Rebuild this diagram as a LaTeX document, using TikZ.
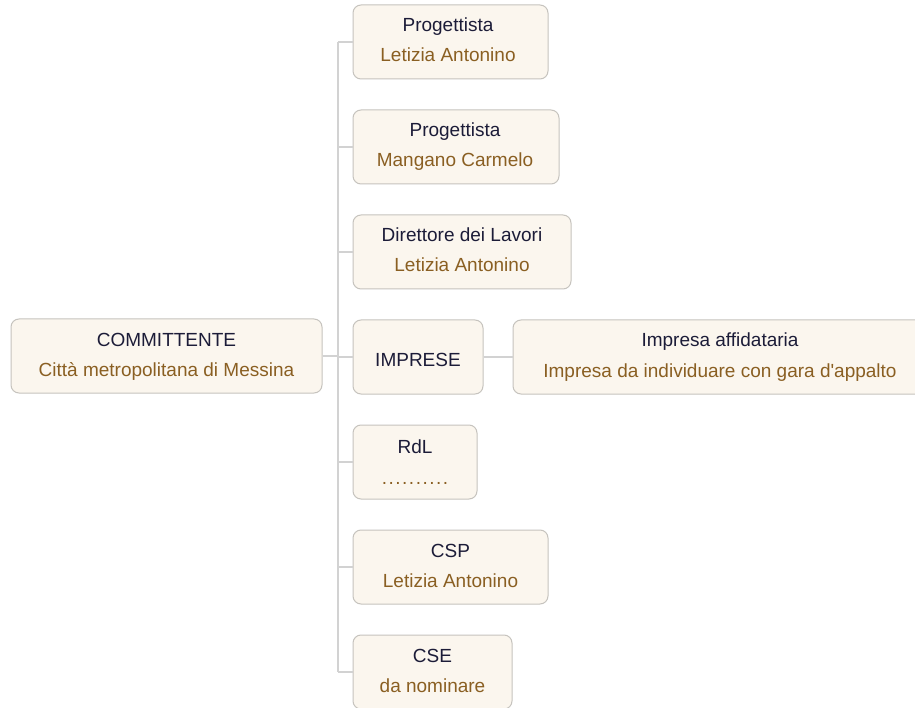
\documentclass[tikz,border=0pt]{standalone}
\usepackage{fontspec}
\setmainfont{Liberation Sans}
\definecolor{boxfill}{HTML}{FBF6EE}
\definecolor{boxline}{HTML}{C6C3BE}
\definecolor{wire}{HTML}{D2D2D2}
\definecolor{titlec}{HTML}{1C1C38}
\definecolor{subc}{HTML}{8A5F22}
\newcommand\dd{\makebox[6.8pt]{.}}
\tikzset{
  orgbox/.style={draw=boxline, fill=boxfill, line width=1pt, rounded corners=8pt,
    minimum height=74pt, inner sep=0pt},
  ttl/.style={anchor=base, inner sep=0pt, text=titlec, font=\fontsize{19}{22}\selectfont},
  sub/.style={anchor=base, inner sep=0pt, text=subc, font=\fontsize{19}{22}\selectfont},
  wireline/.style={draw=wire, line width=1.3pt}
}
\begin{document}
\begin{tikzpicture}[x=1pt, y=-1pt]
\clip (0,0) rectangle (915,708);
\fill[white] (0,0) rectangle (915,708);
% boxes
\node[orgbox, minimum width=311pt] (com) at (166.5,356) {};
\node[orgbox, minimum width=195pt] (p1) at (450.5,42) {};
\node[orgbox, minimum width=206pt] (p2) at (456,147) {};
\node[orgbox, minimum width=218pt] (dl) at (462,252) {};
\node[orgbox, minimum width=130pt] (imp) at (418,357) {};
\node[orgbox, minimum width=420pt] (aff) at (723,357) {};
\node[orgbox, minimum width=124pt] (rdl) at (415,462) {};
\node[orgbox, minimum width=195pt] (csp) at (450.5,567) {};
\node[orgbox, minimum width=159pt] (cse) at (432.5,672) {};
% texts
\node[ttl] (comt) at (166.5,346) {COMMITTENTE};
\node[sub] (coms) at (166.5,376) {Città metropolitana di Messina};
\node[ttl] (p1t) at (448,32) {Progettista};
\node[sub] (p1s) at (448,62) {Letizia Antonino};
\node[ttl] (p2t) at (455,137) {Progettista};
\node[sub] (p2s) at (455,167) {Mangano Carmelo};
\node[ttl] (dlt) at (462,242) {Direttore dei Lavori};
\node[sub] (dls) at (462,272) {Letizia Antonino};
\node[ttl] (impt) at (418,366) {IMPRESE};
\node[ttl] (afft) at (720,347) {Impresa affidataria};
\node[sub] (affs) at (720,377) {Impresa da individuare con gara d\textquotesingle appalto};
\node[ttl] (rdlt) at (415,453) {RdL};
\node[sub] (rdls) at (415,484) {\dd\dd\dd\dd\dd\dd\dd\dd\dd\dd};
\node[ttl] (cspt) at (450.5,557) {CSP};
\node[sub] (csps) at (450.5,587) {Letizia Antonino};
\node[ttl] (cset) at (432.5,662) {CSE};
\node[sub] (cses) at (432.5,692) {da nominare};
% connectors
\coordinate (ttop) at (338,42);
\coordinate (tbot) at (338,672);
\draw[wireline] (ttop) -- (tbot);
\draw[wireline] (com.east) -- (com.east -| ttop);
\foreach \n in {p1,p2,dl,imp,rdl,csp,cse}
  \draw[wireline] (\n.west -| ttop) -- (\n.west);
\draw[wireline] (imp.east) -- (aff.west);
\end{tikzpicture}
\end{document}
